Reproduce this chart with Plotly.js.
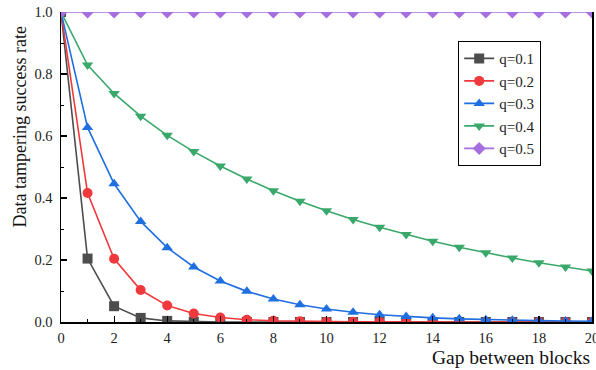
<!DOCTYPE html>
<html>
<head>
<meta charset="utf-8">
<script src="https://cdn.plot.ly/plotly-3.0.1.min.js"></script>
<style>html,body{margin:0;padding:0;background:#fff;}#chart{width:596px;height:370px;}</style>
</head>
<body>
<div id="chart"></div>
<script>
var gap = [0,1,2,3,4,5,6,7,8,9,10,11,12,13,14,15,16,17,18,19,20];
var q01 = [1.0,0.2046,0.0510,0.0132,0.0035,0.0009,0.0002,0.0001,0,0,0,0,0,0,0,0,0,0,0,0,0];
var q02 = [1.0,0.4159,0.2039,0.1032,0.0530,0.0274,0.0143,0.0075,0.0040,0.0021,0.0011,0.0006,0.0003,0.0002,0.0001,0.0001,0,0,0,0,0];
var q03 = [1.0,0.6277,0.4457,0.3245,0.2399,0.1774,0.1321,0.0988,0.0741,0.0558,0.0417,0.0314,0.0236,0.0178,0.0134,0.0101,0.0076,0.0058,0.0044,0.0033,0.0025];
var q04 = [1.0,0.8289,0.7373,0.6641,0.6022,0.5497,0.5034,0.4613,0.4236,0.3899,0.3588,0.3307,0.3054,0.2821,0.2607,0.2411,0.2231,0.2066,0.1914,0.1773,0.1645];
var q05 = [1,1,1,1,1,1,1,1,1,1,1,1,1,1,1,1,1,1,1,1,1];
var names = ['q=0.1','q=0.2','q=0.3','q=0.4','q=0.5'];
var series = [q01,q02,q03,q04,q05];
var colors = ['#4d4d4d','#f0393c','#1f6fe0','#3aa86a','#a76ee0'];
var symbols = ['square','circle','triangle-up','triangle-down','diamond'];

var traces = series.map(function(s,i){
  return {x: gap, y: s, name: names[i], type:'scatter', mode:'lines+markers',
    line:{color:colors[i], width:1.6},
    marker:{symbol:symbols[i], size:10, color:colors[i]}};
});

var font = 'Liberation Serif, Times New Roman, Times, serif';
var layout = {
  width:596, height:370,
  margin:{l:61, r:4, t:12, b:48},
  paper_bgcolor:'#fff', plot_bgcolor:'#fff',
  font:{family:font, color:'#222', size:14},
  showlegend:true,
  legend:{x:0.748, y:0.906, xanchor:'left', yanchor:'top', bgcolor:'#fff',
    bordercolor:'#000', borderwidth:1, font:{family:font, size:15, color:'#222'},
    tracegroupgap:0},
  xaxis:{range:[0,20], dtick:2, tick0:0, showgrid:false, zeroline:false,
    showline:true, linecolor:'#000', linewidth:1.5, ticks:'inside', ticklen:6,
    tickcolor:'#000', tickwidth:1.2, tickfont:{family:font,size:14.5,color:'#222'},
    ticklabeloverflow:'allow', automargin:false, ticklabelstandoff:2,
    minor:{dtick:1, ticks:'inside', ticklen:3, tickcolor:'#000', tickwidth:1}},
  yaxis:{range:[0,1], dtick:0.2, tick0:0, tickformat:'.1f', showgrid:false, zeroline:false,
    showline:true, mirror:true, linecolor:'#000', linewidth:1.5, ticks:'inside', ticklen:6,
    tickcolor:'#000', tickwidth:1.2, tickfont:{family:font,size:14.5,color:'#222'},
    ticklabeloverflow:'allow', automargin:false, ticklabelstandoff:4,
    minor:{dtick:0.1, ticks:'inside', ticklen:3, tickcolor:'#000', tickwidth:1}},
  annotations:[
    {text:'Gap between blocks', xref:'paper', yref:'paper', x:1.0, y:-0.116,
     xanchor:'right', yanchor:'middle', showarrow:false, font:{family:font,size:19.5,color:'#111'}},
    {text:'Data tampering success rate', xref:'paper', yref:'paper', x:-0.077, y:0.628,
     xanchor:'center', yanchor:'middle', textangle:-90, showarrow:false,
     font:{family:font,size:18,color:'#111'}}
  ]
};
Plotly.newPlot('chart', traces, layout, {displayModeBar:false, staticPlot:true});
</script>
</body>
</html>
